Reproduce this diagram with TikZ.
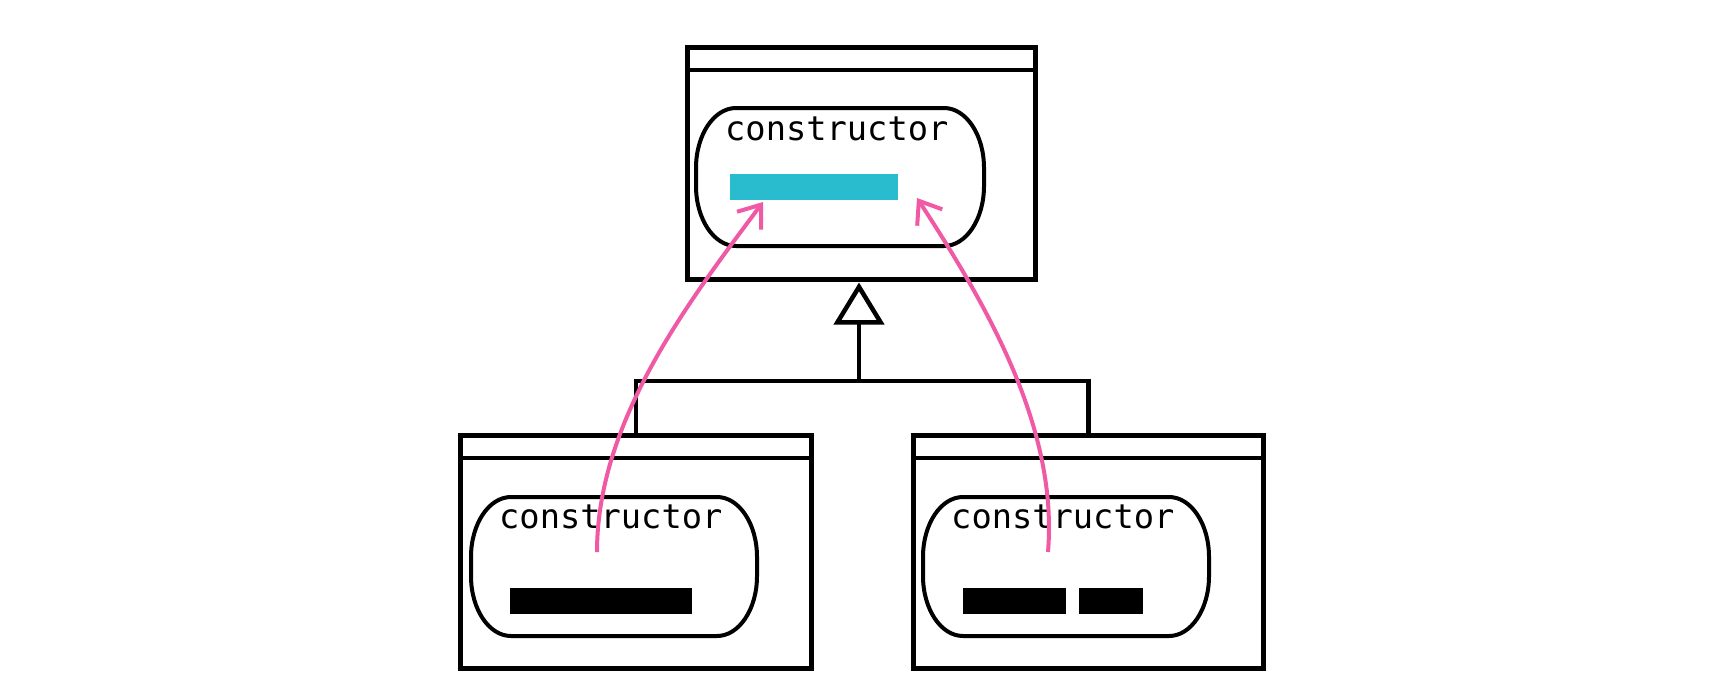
\documentclass[tikz,border=0pt]{standalone}
\usepackage{fontspec}
\setmonofont{DejaVu Sans Mono}
\usetikzlibrary{arrows.meta}
\definecolor{pinkline}{HTML}{F05AA5}
\definecolor{cyanbar}{HTML}{29BBCE}
\tikzset{
  classbox/.style={draw=black, line width=4.5pt, fill=white, rectangle, inner sep=0pt, anchor=north west},
  ctorbox/.style={rectangle, inner sep=0pt, anchor=north west},
  pill/.style={draw=black, line width=4pt},
  sepline/.style={line width=4.5pt},
  ctorlabel/.style={anchor=base west, inner sep=0pt, font=\ttfamily\fontsize{33.7}{40}\selectfont},
  bar/.style={fill=black, draw=none, rectangle, inner sep=0pt, anchor=north west},
  inh/.style={line width=4.5pt, -{Triangle[open, length=42pt, width=50pt, line width=4.5pt]}},
  superref/.style={draw=pinkline, line width=4pt, -{Straight Barb[length=20pt, width=30pt, line width=4pt]}},
}
% \pillpath{left}{top}{right}{bottom}
\newcommand{\pillpath}[4]{%
  \draw[pill] ({#1+40},#2) -- ({#3-40},#2)
    arc[start angle=-90, end angle=0, x radius=40, y radius=60]
    -- (#3,{#4-60})
    arc[start angle=0, end angle=90, x radius=40, y radius=60]
    -- ({#1+40},#4)
    arc[start angle=90, end angle=180, x radius=40, y radius=60]
    -- (#1,{#2+60})
    arc[start angle=180, end angle=270, x radius=40, y radius=60]
    -- cycle;}
\begin{document}
\begin{tikzpicture}[x=1pt,y=-1pt]
\useasboundingbox (0,0) rectangle (1712,696);
% parent class
\node[classbox, minimum width=348pt, minimum height=232pt] (P) at (685,45) {};
\draw[sepline] (685,70) -- (1033,70);
\node[ctorbox, minimum width=288pt, minimum height=138pt] (Pc) at (696,108) {};
\pillpath{696}{108}{984}{246}
\node[ctorlabel] (Pt) at (725,140) {constructor};
\node[bar, fill=cyanbar, minimum width=168pt, minimum height=26pt] (Pb) at (730,174) {};
% left child
\node[classbox, minimum width=351pt, minimum height=233pt] (L) at (458,433) {};
\draw[sepline] (458,458) -- (809,458);
\node[ctorbox, minimum width=286pt, minimum height=139pt] (Lc) at (471,497) {};
\pillpath{471}{497}{757}{636}
\node[ctorlabel] (Lt) at (499,528) {constructor};
\node[bar, minimum width=182pt, minimum height=26pt] (Lb) at (510,588) {};
% right child
\node[classbox, minimum width=350pt, minimum height=233pt] (R) at (911,433) {};
\draw[sepline] (911,458) -- (1261,458);
\node[ctorbox, minimum width=286pt, minimum height=139pt] (Rc) at (923,497) {};
\pillpath{923}{497}{1209}{636}
\node[ctorlabel] (Rt) at (951,528) {constructor};
\node[bar, minimum width=103pt, minimum height=26pt] (Rb1) at (963,588) {};
\node[bar, minimum width=64pt, minimum height=26pt] (Rb2) at (1079,588) {};
% inheritance
\coordinate (J) at (859,381);
\draw[sepline] (L.north) |- (J) -| (R.north);
\draw[inh, shorten >=1pt] (J) -- (J |- P.south);
% super calls
\coordinate (ls) at (597,552);
\coordinate (lt) at (763,202);
\coordinate (rs) at (1048,552);
\coordinate (rt) at (917,198);
\draw[superref] (ls) .. controls (597,420) and (690,300) .. (lt);
\draw[superref] (rs) .. controls (1058,430) and (990,310) .. (rt);
\end{tikzpicture}
\end{document}
